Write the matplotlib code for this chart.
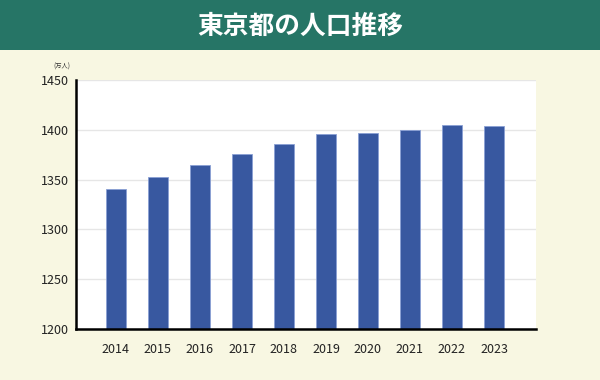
import matplotlib
matplotlib.use('Agg')
import matplotlib.pyplot as plt
from matplotlib.patches import Rectangle

plt.rcParams['font.family'] = ['Noto Sans CJK JP', 'DejaVu Sans']

years = ['2014', '2015', '2016', '2017', '2018', '2019', '2020', '2021', '2022', '2023']
population = [1341, 1353, 1365, 1376, 1386, 1396, 1397, 1400, 1405, 1404]
yticks = [1200, 1250, 1300, 1350, 1400, 1450]
title = '東京都の人口推移'
unit = '(万人)'

bg = '#f8f7e2'
header = '#267566'
bar_color = '#3858a0'

fig = plt.figure(figsize=(6, 3.8), dpi=100, facecolor=bg)

# header band
fig.patches.append(Rectangle((0, 1 - 50 / 380), 1, 50 / 380, transform=fig.transFigure,
                             facecolor=header, edgecolor='none', zorder=0))
fig.text(0.5, 1 - 26 / 380, title, ha='center', va='center', color='white',
         fontsize=18.5, fontweight='bold')

ax = fig.add_axes([76 / 600, 1 - 329 / 380, 460 / 600, 249 / 380])
ax.set_facecolor('white')
x = range(len(years))
ax.bar(x, population, width=0.48, color=bar_color, edgecolor='#8aa0d4',
       linewidth=0.6, zorder=3)

ax.set_ylim(1200, 1450)
ax.set_xlim(-0.95, 10.0)
ax.set_yticks(yticks)
ax.set_xticks(list(x))
ax.set_xticklabels(years)
ax.grid(axis='y', color='#e6e6e6', linewidth=1, zorder=0)
ax.tick_params(axis='both', length=0, labelsize=9, colors='#222222')
ax.tick_params(axis='x', pad=10)
ax.tick_params(axis='y', pad=5)
for s in ['top', 'right']:
    ax.spines[s].set_visible(False)
ax.spines['left'].set_linewidth(1.8)
ax.spines['bottom'].set_linewidth(1.8)
ax.spines['left'].set_zorder(4)
ax.spines['bottom'].set_zorder(4)

fig.text(62 / 600, 1 - 67 / 380, unit, ha='center', va='center', fontsize=4.5,
         color='#333333')

fig.savefig('out.png', dpi=100, facecolor=bg)
